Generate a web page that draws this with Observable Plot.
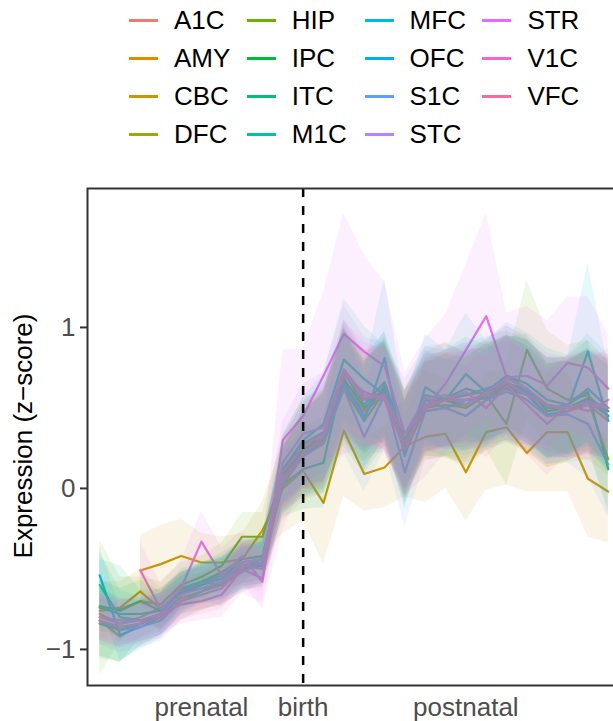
<!DOCTYPE html>
<html><head><meta charset="utf-8">
<script src="https://cdn.jsdelivr.net/npm/d3@7"></script>
<script src="https://cdn.jsdelivr.net/npm/@observablehq/plot@0.6"></script>
<style>
html,body{margin:0;padding:0;background:#fff;}
body{width:613px;height:721px;overflow:hidden;font-family:"Liberation Sans",Arial,sans-serif;}
#legend{position:relative;height:170px;width:613px;}
.grid{position:absolute;left:129px;top:1px;display:grid;grid-template-columns:repeat(4,117.8px);grid-template-rows:repeat(4,38px);grid-auto-flow:column;}
.item{display:flex;align-items:center;font-size:26px;color:#000;white-space:nowrap;}
.key{width:29px;height:3px;margin-right:16px;}
#chart{width:613px;height:551px;overflow:hidden;}
</style></head><body>
<div id="legend"><div class="grid" id="lg"></div></div>
<div id="chart"></div>
<script>
// ---- data ----
const regions = ["A1C","AMY","CBC","DFC","HIP","IPC","ITC","M1C","MFC","OFC","S1C","STC","STR","V1C","VFC"];
const colors  = ["#F8766D","#E58700","#C99800","#A3A500","#6BB100","#00BA38","#00BF7D","#00C0AF","#00BCD8","#00B0F6","#619CFF","#B983FF","#E76BF3","#FD61D1","#FF67A4"];
const birthIndex = 10;
const xTickPos = [5, 10, 18];
const xTickLabels = ["prenatal", "birth", "postnatal"];
const yTicks = [-1, 0, 1];

// mean expression (z-score) per time point (0..25)
const mean_A1C = [-0.78,-0.84,-0.80,-0.74,-0.64,-0.60,-0.56,-0.46,-0.44,0.06,0.22,0.32,0.66,0.55,0.60,0.30,0.55,0.55,0.58,0.60,0.70,0.62,0.50,0.50,0.55,0.50];
const mean_AMY = [-0.76,-0.74,-0.64,-0.75,-0.65,-0.62,-0.60,-0.50,-0.47,0.02,0.20,0.28,0.62,0.48,0.58,0.28,0.48,0.50,0.45,0.55,0.62,0.55,0.45,0.48,0.52,0.42];
const mean_CBC = [null,null,-0.51,-0.47,-0.42,-0.46,-0.46,-0.44,-0.26,0.00,0.11,-0.09,0.36,0.09,0.13,0.26,0.32,0.34,0.10,0.35,0.38,0.22,0.35,0.35,0.06,-0.02];
const mean_DFC = [-0.82,-0.92,-0.84,-0.78,-0.68,-0.64,-0.58,-0.48,-0.44,0.05,0.20,0.30,0.65,0.48,0.62,0.22,0.50,0.52,0.50,0.58,0.62,0.60,0.45,0.48,0.55,0.18];
const mean_HIP = [-0.74,-0.75,-0.70,-0.72,-0.60,-0.55,-0.48,-0.30,-0.30,0.10,0.28,0.30,0.62,0.42,0.60,0.28,0.52,0.55,0.50,0.58,0.40,0.86,0.62,0.55,0.58,0.45];
const mean_IPC = [-0.73,-0.76,-0.70,-0.76,-0.63,-0.58,-0.52,-0.44,-0.42,0.08,0.24,0.32,0.68,0.50,0.62,0.25,0.50,0.55,0.52,0.60,0.65,0.62,0.48,0.50,0.56,0.48];
const mean_ITC = [-0.74,-0.78,-0.78,-0.76,-0.64,-0.58,-0.54,-0.46,-0.44,0.02,0.12,0.16,0.72,0.52,0.66,0.30,0.52,0.56,0.62,0.58,0.64,0.60,0.50,0.52,0.60,0.12];
const mean_M1C = [-0.84,-0.88,-0.84,-0.78,-0.66,-0.58,-0.56,-0.48,-0.46,0.12,0.30,0.40,0.80,0.68,0.58,0.30,0.58,0.55,0.71,0.60,0.70,0.65,0.55,0.52,0.62,0.50];
const mean_MFC = [-0.60,-0.80,-0.82,-0.78,-0.62,-0.58,-0.60,-0.50,-0.46,0.10,0.28,0.35,0.65,0.42,0.81,0.20,0.63,0.55,0.58,0.62,0.66,0.60,0.50,0.50,0.85,0.42];
const mean_OFC = [-0.54,-0.91,-0.86,-0.80,-0.66,-0.60,-0.56,-0.50,-0.48,0.04,0.22,0.28,0.66,0.45,0.64,0.22,0.55,0.50,0.55,0.56,0.62,0.58,0.46,0.48,0.54,0.45];
const mean_S1C = [-0.82,-0.88,-0.86,-0.82,-0.70,-0.64,-0.60,-0.52,-0.46,0.04,0.20,0.28,0.62,0.32,0.58,0.10,0.48,0.50,0.45,0.55,0.60,0.55,0.45,0.46,0.40,0.15];
const mean_STC = [-0.80,-0.84,-0.82,-0.78,-0.66,-0.62,-0.58,-0.46,-0.44,0.16,0.34,0.38,0.74,0.58,0.56,0.34,0.56,0.58,0.52,0.60,0.68,0.62,0.52,0.50,0.54,0.50];
const mean_STR = [null,null,-0.51,-0.75,-0.62,-0.33,-0.54,-0.42,-0.58,0.30,0.45,0.70,0.96,0.85,0.76,0.34,0.50,0.65,0.86,1.07,0.69,0.70,0.64,0.78,0.75,0.62];
const mean_V1C = [-0.80,-0.82,-0.82,-0.78,-0.72,-0.70,-0.66,-0.50,-0.56,0.10,0.26,0.34,0.70,0.60,0.55,0.24,0.52,0.55,0.60,0.50,0.64,0.52,0.40,0.52,0.48,0.55];
const mean_VFC = [-0.82,-0.86,-0.84,-0.80,-0.70,-0.66,-0.62,-0.48,-0.50,0.06,0.22,0.32,0.72,0.56,0.58,0.28,0.50,0.55,0.55,0.58,0.66,0.58,0.52,0.48,0.52,0.50];

// ribbon half-widths
const hw_A1C = [0.16,0.15,0.13,0.12,0.12,0.12,0.13,0.13,0.13,0.20,0.26,0.30,0.33,0.30,0.31,0.31,0.29,0.29,0.30,0.31,0.31,0.31,0.31,0.31,0.32,0.33];
const hw_AMY = [0.18,0.16,0.14,0.13,0.13,0.13,0.13,0.14,0.14,0.22,0.28,0.31,0.34,0.32,0.32,0.32,0.30,0.31,0.32,0.32,0.33,0.33,0.32,0.32,0.34,0.34];
const hw_CBC = [null,null,0.22,0.24,0.23,0.18,0.16,0.16,0.18,0.28,0.31,0.38,0.41,0.23,0.25,0.31,0.41,0.34,0.30,0.36,0.36,0.24,0.37,0.37,0.36,0.32];
const hw_DFC = [0.22,0.16,0.14,0.13,0.13,0.12,0.13,0.14,0.14,0.20,0.26,0.30,0.34,0.31,0.31,0.31,0.30,0.32,0.32,0.32,0.32,0.36,0.32,0.31,0.32,0.30];
const hw_HIP = [0.42,0.20,0.15,0.14,0.14,0.13,0.14,0.15,0.15,0.23,0.28,0.31,0.36,0.33,0.34,0.34,0.32,0.36,0.34,0.34,0.38,0.43,0.36,0.34,0.34,0.34];
const hw_IPC = [0.16,0.14,0.13,0.12,0.11,0.11,0.12,0.12,0.12,0.18,0.24,0.28,0.32,0.29,0.30,0.30,0.28,0.28,0.29,0.30,0.30,0.31,0.30,0.29,0.30,0.32];
const hw_ITC = [0.30,0.30,0.15,0.13,0.12,0.12,0.12,0.13,0.13,0.20,0.25,0.28,0.33,0.30,0.31,0.31,0.29,0.30,0.32,0.31,0.31,0.32,0.31,0.30,0.32,0.28];
const hw_M1C = [0.22,0.20,0.14,0.13,0.12,0.12,0.13,0.13,0.13,0.21,0.27,0.31,0.38,0.33,0.31,0.31,0.30,0.31,0.38,0.32,0.33,0.32,0.32,0.31,0.34,0.33];
const hw_MFC = [0.20,0.17,0.14,0.13,0.12,0.12,0.13,0.13,0.13,0.20,0.26,0.30,0.34,0.31,0.50,0.33,0.33,0.31,0.32,0.32,0.32,0.32,0.31,0.31,0.55,0.33];
const hw_OFC = [0.18,0.16,0.14,0.13,0.12,0.12,0.13,0.13,0.13,0.20,0.26,0.30,0.34,0.32,0.34,0.32,0.31,0.30,0.31,0.31,0.32,0.31,0.31,0.31,0.32,0.32];
const hw_S1C = [0.15,0.14,0.13,0.13,0.12,0.12,0.12,0.13,0.13,0.20,0.26,0.31,0.40,0.34,0.34,0.34,0.31,0.30,0.31,0.31,0.32,0.31,0.30,0.30,0.33,0.33];
const hw_STC = [0.15,0.14,0.13,0.13,0.13,0.13,0.14,0.15,0.15,0.26,0.31,0.34,0.40,0.36,0.34,0.34,0.32,0.32,0.32,0.33,0.33,0.33,0.32,0.31,0.32,0.32];
const hw_STR = [null,null,0.18,0.16,0.17,0.19,0.17,0.16,0.17,0.56,0.42,0.52,0.75,0.60,0.52,0.38,0.43,0.43,0.53,0.64,0.40,0.43,0.40,0.41,0.44,0.34];
const hw_V1C = [0.14,0.13,0.13,0.13,0.12,0.12,0.14,0.15,0.15,0.22,0.26,0.30,0.34,0.31,0.31,0.31,0.30,0.30,0.31,0.31,0.31,0.31,0.32,0.31,0.31,0.32];
const hw_VFC = [0.15,0.13,0.13,0.13,0.12,0.12,0.13,0.14,0.14,0.20,0.25,0.29,0.33,0.30,0.30,0.30,0.29,0.29,0.30,0.30,0.30,0.30,0.30,0.30,0.31,0.31];

const means = {A1C:mean_A1C,AMY:mean_AMY,CBC:mean_CBC,DFC:mean_DFC,HIP:mean_HIP,IPC:mean_IPC,ITC:mean_ITC,M1C:mean_M1C,MFC:mean_MFC,OFC:mean_OFC,S1C:mean_S1C,STC:mean_STC,STR:mean_STR,V1C:mean_V1C,VFC:mean_VFC};
const hws = {A1C:hw_A1C,AMY:hw_AMY,CBC:hw_CBC,DFC:hw_DFC,HIP:hw_HIP,IPC:hw_IPC,ITC:hw_ITC,M1C:hw_M1C,MFC:hw_MFC,OFC:hw_OFC,S1C:hw_S1C,STC:hw_STC,STR:hw_STR,V1C:hw_V1C,VFC:hw_VFC};

const rows = [];
for (const r of regions) {
  means[r].forEach((m, t) => {
    if (m == null) return;
    const h = hws[r][t];
    rows.push({region: r, t, mean: m, lo: m - h, hi: m + h});
  });
}

// ---- legend ----
const lg = document.getElementById("lg");
regions.forEach((r, i) => {
  const it = document.createElement("div");
  it.className = "item";
  const k = document.createElement("span");
  k.className = "key";
  k.style.background = colors[i];
  const tx = document.createElement("span");
  tx.textContent = r;
  it.appendChild(k); it.appendChild(tx);
  lg.appendChild(it);
});

// ---- chart ----
const chart = Plot.plot({
  width: 620, height: 551,
  marginLeft: 87, marginRight: 0, marginTop: 18, marginBottom: 36,
  x: {domain: [-0.6, 25.6], label: null},
  y: {domain: [-1.224, 1.863], label: null},
  color: {domain: regions, range: colors},
  style: {fontFamily: "'Liberation Sans', Arial, sans-serif", fontSize: "26px", background: "white", maxWidth: "none"},
  marks: [
    Plot.line(rows, {x: "t", y: "mean", stroke: "region", z: "region", strokeWidth: 2.2}),
    Plot.areaY(rows, {x: "t", y1: "lo", y2: "hi", fill: "region", z: "region", fillOpacity: 0.1}),
    Plot.ruleX([birthIndex], {stroke: "black", strokeWidth: 2.5, strokeDasharray: "9,9"}),
    Plot.frame({stroke: "#333333", strokeWidth: 2}),
    Plot.axisY({ticks: yTicks, tickFormat: d3.format("d"), tickSize: 7, tickPadding: 5}),
    Plot.axisX({ticks: xTickPos, tickFormat: d => xTickLabels[xTickPos.indexOf(d)], tickSize: 0, tickPadding: 12})
  ]
});
document.getElementById("chart").appendChild(chart);

const svg = d3.select(chart);
svg.selectAll('g[aria-label="y-axis tick"]').attr("stroke", "#333333").attr("stroke-width", 2);
svg.selectAll('g[aria-label="y-axis tick label"]').attr("fill", "#4D4D4D");
svg.selectAll('g[aria-label="x-axis tick label"]').attr("fill", "#4D4D4D");
svg.append("text")
  .attr("transform", "translate(32,266) rotate(-90)")
  .attr("text-anchor", "middle")
  .attr("fill", "#000")
  .style("font-size", "26px")
  .text("Expression (z−score)");
</script>
</body></html>
